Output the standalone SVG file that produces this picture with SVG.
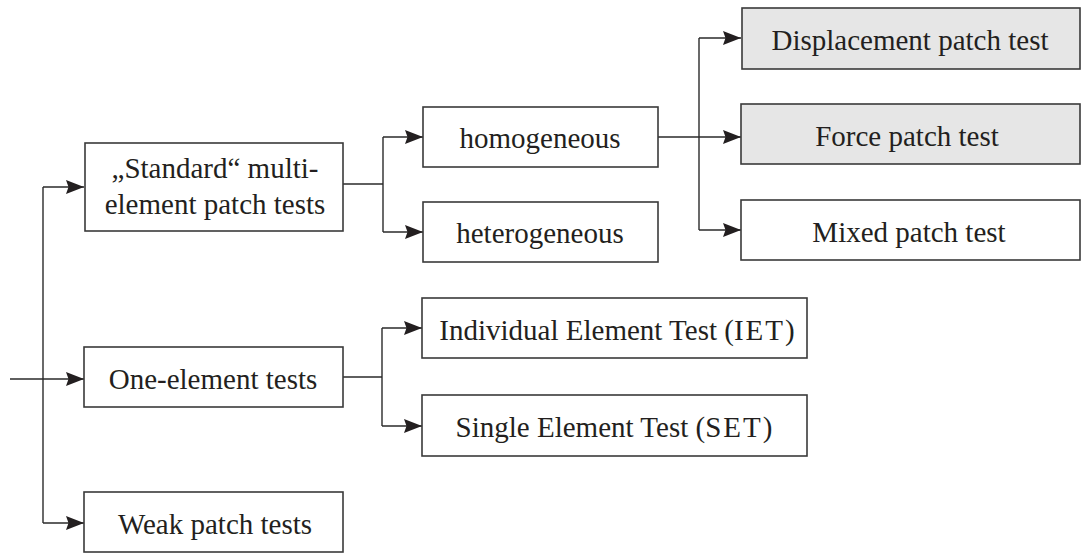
<svg xmlns="http://www.w3.org/2000/svg" width="1083" height="554" viewBox="0 0 1083 554">
  <style>
    .box { fill: #ffffff; stroke: #3a3a3a; stroke-width: 1.6; }
    .shaded { fill: #e6e6e6; }
    .lbl { font-family: "Liberation Serif", "Times New Roman", serif; font-size: 29px; fill: #231f20; text-anchor: middle; }
    .wire { fill: none; stroke: #2a2a2a; stroke-width: 1.4; }
  </style>
  <defs>
    <marker id="arrow" markerUnits="userSpaceOnUse" markerWidth="19" markerHeight="15" refX="18" refY="7.5" orient="auto">
      <path d="M0,0.5 L18,7.5 L0,14.5 L2.5,7.5 Z" fill="#231f20"/>
    </marker>
  </defs>
  <rect width="1083" height="554" fill="#ffffff"/>

  <!-- connectors -->
  <g id="connectors">
    <!-- root trunk -->
    <path class="wire" d="M10,379 H84" marker-end="url(#arrow)"/>
    <path class="wire" d="M43,187 V523"/>
    <path class="wire" d="M43,187 H84" marker-end="url(#arrow)"/>
    <path class="wire" d="M43,523 H84" marker-end="url(#arrow)"/>
    <!-- standard -> homogeneous / heterogeneous -->
    <path class="wire" d="M343,184 H383"/>
    <path class="wire" d="M383,137 V232"/>
    <path class="wire" d="M383,137 H423" marker-end="url(#arrow)"/>
    <path class="wire" d="M383,232 H423" marker-end="url(#arrow)"/>
    <!-- homogeneous -> patch tests -->
    <path class="wire" d="M658,137 H741" marker-end="url(#arrow)"/>
    <path class="wire" d="M699,38 V230"/>
    <path class="wire" d="M699,38 H741" marker-end="url(#arrow)"/>
    <path class="wire" d="M699,230 H741" marker-end="url(#arrow)"/>
    <!-- one-element -> IET / SET -->
    <path class="wire" d="M343,377 H382"/>
    <path class="wire" d="M382,328 V426"/>
    <path class="wire" d="M382,328 H422" marker-end="url(#arrow)"/>
    <path class="wire" d="M382,426 H422" marker-end="url(#arrow)"/>
  </g>

  <g id="standard">
    <rect class="box" x="85" y="143" width="258" height="88"/>
    <text class="lbl" x="215" y="178">„Standard“ multi-</text>
    <text class="lbl" x="215" y="214">element patch tests</text>
  </g>

  <g id="one-element">
    <rect class="box" x="84" y="347" width="259" height="60"/>
    <text class="lbl" x="213" y="389">One-element tests</text>
  </g>

  <g id="weak">
    <rect class="box" x="84" y="492" width="259" height="60"/>
    <text class="lbl" x="215" y="534">Weak patch tests</text>
  </g>

  <g id="homogeneous">
    <rect class="box" x="423" y="107" width="235" height="60"/>
    <text class="lbl" x="540" y="148">homogeneous</text>
  </g>

  <g id="heterogeneous">
    <rect class="box" x="423" y="202" width="235" height="60"/>
    <text class="lbl" x="540" y="243">heterogeneous</text>
  </g>

  <g id="displacement">
    <rect class="box shaded" x="742" y="8" width="338" height="61"/>
    <text class="lbl" x="910" y="50">Displacement patch test</text>
  </g>

  <g id="force">
    <rect class="box shaded" x="741" y="104" width="339" height="60"/>
    <text class="lbl" x="907" y="146">Force patch test</text>
  </g>

  <g id="mixed">
    <rect class="box" x="741" y="200" width="339" height="60"/>
    <text class="lbl" x="909" y="242">Mixed patch test</text>
  </g>

  <g id="iet">
    <rect class="box" x="422" y="298" width="385" height="60"/>
    <text class="lbl" x="617" y="340">Individual Element Test (<tspan letter-spacing="2">IET</tspan>)</text>
  </g>

  <g id="set">
    <rect class="box" x="422" y="395" width="385" height="61"/>
    <text class="lbl" x="614" y="437">Single Element Test (<tspan letter-spacing="2">SET</tspan>)</text>
  </g>
</svg>
